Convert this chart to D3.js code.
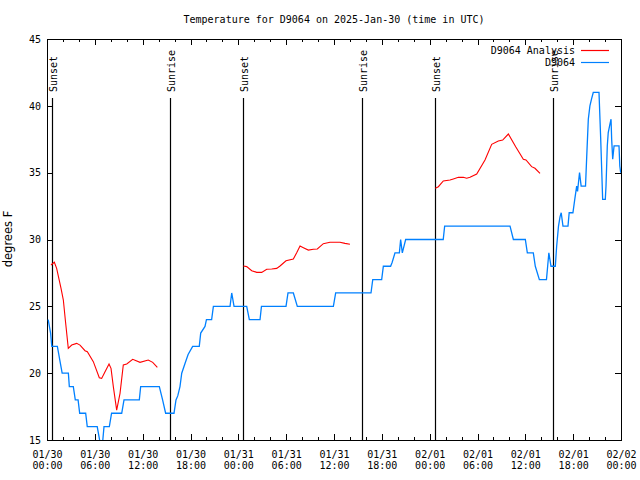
<!DOCTYPE html>
<html><head><meta charset="utf-8">
<script src="https://cdn.jsdelivr.net/npm/d3@7"></script>
<style>body{margin:0;background:#fff}svg{display:block}</style>
</head><body>
<svg id="c" width="640" height="480"></svg>
<script>
// ---- data (hours since 2025-01-30 00:00 UTC) ----
const yTicks = [15, 20, 25, 30, 35, 40, 45];
const sunEvents = ["Sunset", "Sunrise", "Sunset", "Sunrise", "Sunset", "Sunrise"];
const sunHours = [0.6, 15.47, 24.63, 39.48, 48.72, 63.52];

// Analysis series (null = gap)
const analysisHours = [0.5,0.92,1.21,1.76,2.05,2.3,2.67,3.1,3.72,4.14,4.77,5.06,5.81,6.56,6.86,7.28,7.78,8.03,8.32,8.74,9.16,9.57,10.0,10.75,11.67,12.7,13.26,13.84,
 null,
 24.63,25.05,25.68,26.3,26.93,27.56,28.19,28.81,29.23,29.98,30.9,31.32,31.74,32.16,32.78,33.41,33.91,34.66,35.5,36.75,37.38,38.0,
 null,
 48.71,49.09,49.71,50.55,50.97,51.6,52.22,52.64,53.06,53.9,54.94,55.78,56.61,57.16,57.87,58.79,59.75,60.08,60.79,61.21,61.84];
const analysisTemps = [28.09,28.3,27.84,26.35,25.47,23.98,21.86,22.1,22.23,22.1,21.68,21.6,20.86,19.66,19.61,20.11,20.69,20.36,18.99,17.24,18.49,20.61,20.69,21.04,20.81,20.98,20.81,20.44,
 null,
 28.02,27.97,27.67,27.54,27.54,27.77,27.79,27.84,28.02,28.41,28.54,29.01,29.51,29.39,29.21,29.27,29.29,29.69,29.79,29.79,29.71,29.64,
 null,
 33.83,33.95,34.38,34.45,34.53,34.65,34.65,34.58,34.65,34.9,35.95,37.12,37.37,37.44,37.89,36.94,36.0,35.95,35.45,35.33,34.95];

// Observed series
const obsHours = [0.15,0.45,0.6,1.3,1.6,1.9,2.68,2.8,3.3,3.55,3.9,4.1,4.85,5.05,6.3,6.6,6.85,7.0,7.15,7.82,8.1,9.37,9.66,11.58,11.75,14.09,14.5,14.88,15.93,16.18,16.4,16.68,16.9,17.3,17.7,18.27,19.1,19.28,19.82,20.0,20.65,20.87,22.96,23.17,23.46,25.05,25.38,26.72,26.9,29.98,30.23,30.9,31.4,35.92,36.21,40.64,40.86,41.98,42.19,43.1,43.3,43.65,44.2,44.36,44.57,44.99,49.7,49.88,58.08,58.5,60.0,60.25,61.0,61.25,61.76,62.65,62.8,62.95,63.22,63.76,63.93,64.16,64.35,64.5,64.72,65.35,65.5,65.97,66.2,66.44,66.55,66.62,66.8,67.0,67.55,67.7,67.9,68.1,68.3,68.52,69.24,69.45,69.7,70.03,70.12,70.28,70.4,70.6,70.75,70.83,70.96,71.13,71.75,71.85,71.96];
const obsTemps = [24,23,22,22,21,20,20,19,19,18,18,17,17,16,16,15,14,15,16,16,17,17,18,18,19,19,18,17,17,18,18.3,19,20,20.7,21.4,22,22,23,23.5,24,24,25,25,26,25,25,24,24,25,25,26,26,25,25,26,26,27,27,28,28,28.3,29,29,30,29,30,30,31,31,30,30,29,29,28,27,27,28,29,28,28,29.5,31,31.7,32,31,31,32,32,33,34,33.6,34,35,34,34,36.2,39,40,40.5,41,41,37.6,33,33,34,37,38,38.6,39,37.5,36,37,37,35.5,35];

const seriesNames = ["D9064 Analysis", "D9064"];
const seriesColors = ["#ff0000", "#0080ff"];

// ---- chart ----
const svg = d3.select("#c");
const L = 47, R = 621, T = 39, B = 440;
const t0 = Date.UTC(2025, 0, 30);
const toDate = h => new Date(t0 + h * 3600e3);
const x = d3.scaleUtc().domain([toDate(0), toDate(72)]).range([L, R]);
const y = d3.scaleLinear().domain([15, 45]).range([B, T]);
const mono = "'DejaVu Sans Mono', 'Liberation Mono', monospace";

svg.append("defs").append("clipPath").attr("id", "clip")
  .append("rect").attr("x", L).attr("y", T).attr("width", R - L).attr("height", B - T);

// title
svg.append("text").attr("x", 334).attr("y", 23).attr("text-anchor", "middle")
  .style("font-family", mono).style("font-size", "10px")
  .text("Temperature for D9064 on 2025-Jan-30 (time in UTC)");

// y label
svg.append("text").attr("transform", "translate(12,239) rotate(-90)")
  .attr("text-anchor", "middle")
  .style("font-family", "'DejaVu Sans', sans-serif").style("font-size", "11.5px")
  .text("degrees F");

// axes
function styleAxis(g) {
  g.select(".domain").remove();
  g.selectAll("line").attr("stroke", "#000").attr("shape-rendering", "crispEdges");
  g.selectAll("text").style("font-family", mono).style("font-size", "10px").attr("fill", "#000");
}
const major = d3.utcHour.every(6), minor = d3.utcHour.every(2);
svg.append("g").attr("transform", `translate(0,${B})`)
  .call(d3.axisBottom(x).ticks(minor).tickSize(-3).tickFormat("")).call(styleAxis);
svg.append("g").attr("transform", `translate(0,${T})`)
  .call(d3.axisTop(x).ticks(minor).tickSize(-3).tickFormat("")).call(styleAxis);
svg.append("g").attr("transform", `translate(0,${T})`)
  .call(d3.axisTop(x).ticks(major).tickSize(-6).tickFormat("")).call(styleAxis);
const gx = svg.append("g").attr("transform", `translate(0,${B})`)
  .call(d3.axisBottom(x).ticks(major).tickSize(-6).tickFormat(d3.utcFormat("%m/%d")))
  .call(styleAxis);
gx.selectAll(".tick text").each(function (d) {
  const t = d3.select(this);
  t.text(null).attr("y", 0).attr("dy", null);
  t.append("tspan").attr("x", 0).attr("y", 18).text(d3.utcFormat("%m/%d")(d));
  t.append("tspan").attr("x", 0).attr("y", 29).text(d3.utcFormat("%H:%M")(d));
});
svg.append("g").attr("transform", `translate(${L},0)`)
  .call(d3.axisLeft(y).tickValues(yTicks).tickSize(-6).tickPadding(6)).call(styleAxis);
svg.append("g").attr("transform", `translate(${R},0)`)
  .call(d3.axisRight(y).tickValues(yTicks).tickSize(-6).tickFormat("")).call(styleAxis);

// border
svg.append("rect").attr("x", L).attr("y", T).attr("width", R - L).attr("height", B - T)
  .attr("fill", "none").attr("stroke", "#000").attr("shape-rendering", "crispEdges");

// sunrise/sunset lines
sunHours.forEach((h, i) => {
  const px = Math.round(x(toDate(h))) + 0.5;
  svg.append("line").attr("x1", px).attr("x2", px).attr("y1", 98).attr("y2", B)
    .attr("stroke", "#000").attr("stroke-width", 1.2);
  svg.append("text").attr("transform", `translate(${px + 4},92) rotate(-90)`)
    .attr("text-anchor", "start")
    .style("font-family", mono).style("font-size", "10px")
    .text(sunEvents[i]);
});

// data lines
const plot = svg.append("g").attr("clip-path", "url(#clip)");
const anaData = analysisHours.map((h, i) => ({ h, v: analysisTemps[i] }));
const obsData = obsHours.map((h, i) => ({ h, v: obsTemps[i] }));
const line = d3.line().defined(d => d.h !== null && d.v !== null)
  .x(d => x(toDate(d.h))).y(d => y(d.v));
plot.append("path").datum(anaData).attr("d", line)
  .attr("fill", "none").attr("stroke", seriesColors[0]).attr("stroke-width", 1.1);
plot.append("path").datum(obsData).attr("d", line)
  .attr("fill", "none").attr("stroke", seriesColors[1]).attr("stroke-width", 1.3);

// legend
seriesNames.forEach((n, i) => {
  const ly = 50 + i * 12;
  svg.append("text").attr("x", 575).attr("y", ly + 4).attr("text-anchor", "end")
    .style("font-family", mono).style("font-size", "10px").text(n);
  svg.append("line").attr("x1", 581).attr("x2", 609).attr("y1", ly + 0.5).attr("y2", ly + 0.5)
    .attr("stroke", seriesColors[i]).attr("stroke-width", 1.2);
});
</script>
</body></html>
